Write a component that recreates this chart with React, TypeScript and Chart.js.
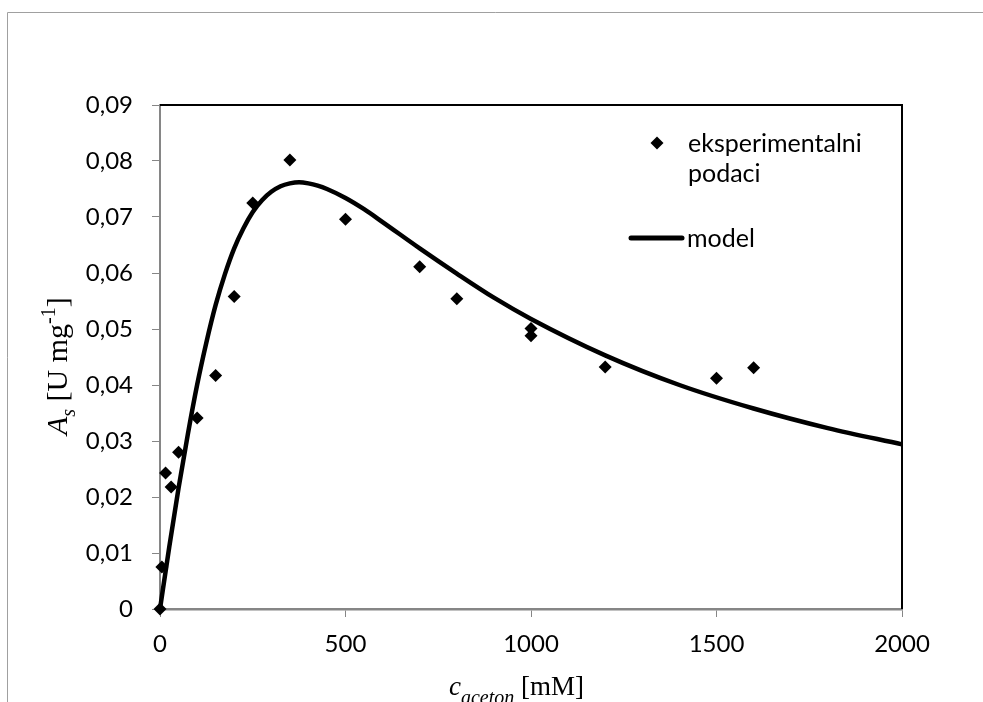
import React, { useEffect, useRef } from "react";
import { Chart, registerables } from "chart.js";

Chart.register(...registerables);

// Experimental data (c_aceton in mM, A_s in U mg^-1)
const expX = [0, 5, 15, 30, 50, 100, 150, 200, 250, 350, 500, 700, 800, 1000, 1000, 1200, 1500, 1600];
const expY = [0, 0.0075, 0.0243, 0.0218, 0.028, 0.0341, 0.0417, 0.0558, 0.0725, 0.0802, 0.0696, 0.0611, 0.0554, 0.0501, 0.0488, 0.0432, 0.0412, 0.0431];

// Model curve
const modelX = [0, 25, 50, 75, 100, 125, 150, 175, 200, 225, 250, 275, 300, 325, 350, 375, 400, 425, 450, 500, 550, 600, 700, 800, 900, 1000, 1200, 1400, 1600, 1800, 2000];
const modelY = [0, 0.0111, 0.0216, 0.0312, 0.04, 0.0476, 0.0543, 0.0598, 0.0644, 0.068, 0.0709, 0.073, 0.0745, 0.0755, 0.076, 0.0762, 0.076, 0.0756, 0.075, 0.0734, 0.0714, 0.0691, 0.0644, 0.0599, 0.0556, 0.0518, 0.0453, 0.04, 0.0358, 0.0323, 0.0294];

const xTicks = [0, 500, 1000, 1500, 2000];
const yTicks = [0, 0.01, 0.02, 0.03, 0.04, 0.05, 0.06, 0.07, 0.08, 0.09];

const legendLabels = ["eksperimentalni", "podaci", "model"];

const TICK_FONT = "Lato";
const SERIF = "'Liberation Serif', 'Times New Roman', serif";

function fmtY(v: number): string {
  if (v === 0) return "0";
  return v.toFixed(2).replace(".", ",");
}

const decor = {
  id: "decor",
  beforeDraw(chart: any) {
    const ctx = chart.ctx as CanvasRenderingContext2D;
    ctx.save();
    ctx.strokeStyle = "#a0a0a0";
    ctx.lineWidth = 1;
    ctx.beginPath();
    ctx.moveTo(7.5, 702);
    ctx.lineTo(7.5, 12.5);
    ctx.lineTo(983, 12.5);
    ctx.stroke();
    ctx.restore();
  },
  afterDraw(chart: any) {
    const ctx = chart.ctx as CanvasRenderingContext2D;
    const a = chart.chartArea;
    ctx.save();
    // top and right frame
    ctx.strokeStyle = "#000";
    ctx.lineWidth = 2;
    ctx.beginPath();
    ctx.moveTo(a.left, a.top);
    ctx.lineTo(a.right, a.top);
    ctx.lineTo(a.right, a.bottom);
    ctx.stroke();

    // legend
    ctx.fillStyle = "#000";
    const dx = 657, dy = 143, r = 6.5;
    ctx.beginPath();
    ctx.moveTo(dx - r, dy);
    ctx.lineTo(dx, dy - r);
    ctx.lineTo(dx + r, dy);
    ctx.lineTo(dx, dy + r);
    ctx.closePath();
    ctx.fill();
    ctx.font = `25px ${TICK_FONT}`;
    ctx.textAlign = "left";
    ctx.textBaseline = "alphabetic";
    ctx.fillText(legendLabels[0], 688, 152);
    ctx.fillText(legendLabels[1], 688, 182);
    ctx.strokeStyle = "#000";
    ctx.lineWidth = 5;
    ctx.lineCap = "round";
    ctx.beginPath();
    ctx.moveTo(631, 238);
    ctx.lineTo(682, 238);
    ctx.stroke();
    ctx.fillText(legendLabels[2], 687, 247);

    // x title: c_aceton [mM]
    let x = 449;
    const by = 695;
    ctx.font = `italic 27px ${SERIF}`;
    ctx.fillText("c", x, by);
    x += ctx.measureText("c").width;
    ctx.font = `italic 20px ${SERIF}`;
    ctx.fillText("aceton", x, by + 9);
    x += ctx.measureText("aceton").width;
    ctx.font = `27px ${SERIF}`;
    ctx.fillText(" [mM]", x, by);

    // y title: A_s [U mg^-1]
    ctx.translate(67, 435);
    ctx.rotate(-Math.PI / 2);
    let t = 0;
    ctx.font = `italic 30px ${SERIF}`;
    ctx.fillText("A", t, 0);
    t += ctx.measureText("A").width;
    ctx.font = `italic 20px ${SERIF}`;
    ctx.fillText("s", t, 8);
    t += ctx.measureText("s").width;
    ctx.font = `30px ${SERIF}`;
    ctx.fillText(" [U mg", t, 0);
    t += ctx.measureText(" [U mg").width;
    ctx.font = `20px ${SERIF}`;
    ctx.fillText("-1", t, -12);
    t += ctx.measureText("-1").width;
    ctx.font = `30px ${SERIF}`;
    ctx.fillText("]", t, 0);
    ctx.restore();
  },
};

export default function App() {
  const ref = useRef<HTMLCanvasElement | null>(null);
  useEffect(() => {
    if (!ref.current) return;
    const chart = new Chart(ref.current, {
      type: "scatter",
      data: {
        datasets: [
          {
            label: "model",
            data: modelX.map((x, i) => ({ x, y: modelY[i] })),
            showLine: true,
            borderColor: "#000",
            borderWidth: 4.5,
            pointRadius: 0,
            cubicInterpolationMode: "monotone",
            order: 0,
            clip: 3,
          } as any,
          {
            label: "eksperimentalni podaci",
            data: expX.map((x, i) => ({ x, y: expY[i] })),
            showLine: false,
            pointStyle: "rectRot",
            pointRadius: 6.5,
            backgroundColor: "#000",
            borderColor: "#000",
            borderWidth: 0,
            order: 1,
            clip: false,
          } as any,
        ],
      },
      options: {
        responsive: false,
        animation: false,
        devicePixelRatio: 1,
        layout: { padding: { left: 0, right: 81, top: 105, bottom: 0 } },
        plugins: { legend: { display: false }, tooltip: { enabled: false } },
        scales: {
          x: {
            type: "linear",
            min: 0,
            max: 2000,
            afterBuildTicks: (s: any) => {
              s.ticks = xTicks.map((v) => ({ value: v }));
            },
            afterFit: (s: any) => {
              s.height = 93;
            },
            ticks: {
              color: "#000",
              font: { family: TICK_FONT, size: 24 },
              padding: 13,
              maxRotation: 0,
              callback: (v: any) => String(v),
            },
            grid: { drawOnChartArea: false, drawTicks: true, tickLength: 8, color: "#868686", lineWidth: 1 },
            border: { display: true, color: "#868686", width: 2.5 },
          },
          y: {
            type: "linear",
            min: 0,
            max: 0.09,
            afterBuildTicks: (s: any) => {
              s.ticks = yTicks.map((v) => ({ value: v }));
            },
            afterFit: (s: any) => {
              s.width = 160;
            },
            ticks: {
              color: "#000",
              font: { family: TICK_FONT, size: 24 },
              padding: 19,
              callback: (v: any) => fmtY(Number(v)),
            },
            grid: { drawOnChartArea: false, drawTicks: true, tickLength: 8, color: "#868686", lineWidth: 1 },
            border: { display: true, color: "#868686", width: 2 },
          },
        },
      },
      plugins: [decor],
    } as any);
    return () => chart.destroy();
  }, []);
  return (
    <div style={{ position: "absolute", left: 0, top: 0, width: 983, height: 702, background: "#fff", overflow: "hidden" }}>
      <canvas ref={ref} width={983} height={702} style={{ width: 983, height: 702, display: "block" }} />
    </div>
  );
}
